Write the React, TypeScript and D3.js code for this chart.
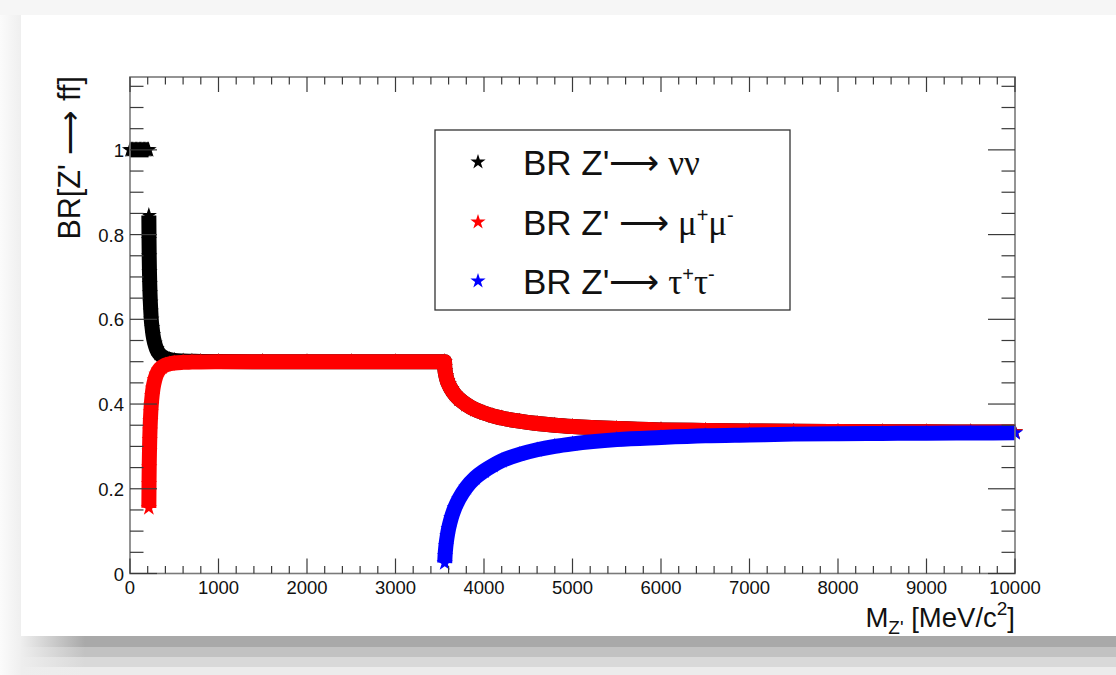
import React from 'react';
import * as d3 from 'd3';

const W = 1116;
const H = 675;

// Z' -> nu nu below the dimuon threshold (invisible channel only)
const NU_LOW_MASS = [0, 15, 30, 45, 60, 75, 90, 105, 120, 135, 150, 165, 180, 195, 210];
const NU_LOW_BR = [1, 1, 1, 1, 1, 1, 1, 1, 1, 1, 1, 1, 1, 1, 1];

// Z' -> nu nu above the dimuon threshold
const NU_MASS = [213, 215, 217, 220, 223, 226, 230, 235, 240, 250, 260, 280, 300, 330, 360, 400, 450, 500, 600, 700, 800, 1000, 1500, 2000, 2500, 3000, 3554,
  3556, 3560, 3570, 3585, 3600, 3630, 3670, 3720, 3800, 3900, 4000, 4100, 4200, 4400, 4600, 4800, 5000, 5500, 6000, 6500, 7000, 7500, 8000, 8500, 9000, 9500, 10000];
const NU_BR = [0.845, 0.788, 0.749, 0.712, 0.684, 0.662, 0.64, 0.619, 0.6, 0.58, 0.563, 0.543, 0.53, 0.519, 0.513, 0.508, 0.505, 0.503, 0.5015, 0.501, 0.5005, 0.5003, 0.5001, 0.5, 0.5, 0.5, 0.5,
  0.488, 0.479, 0.467, 0.455, 0.447, 0.435, 0.423, 0.412, 0.399, 0.387, 0.379, 0.372, 0.367, 0.3595, 0.354, 0.35, 0.347, 0.342, 0.339, 0.3376, 0.3364, 0.3356, 0.3351, 0.3347, 0.3344, 0.3342, 0.334];

// Z' -> mu+ mu-
const MU_MASS = [213, 215, 217, 220, 223, 226, 230, 235, 240, 250, 260, 280, 300, 330, 360, 400, 450, 500, 600, 700, 800, 1000, 1500, 2000, 2500, 3000, 3554,
  3556, 3560, 3570, 3585, 3600, 3630, 3670, 3720, 3800, 3900, 4000, 4100, 4200, 4400, 4600, 4800, 5000, 5500, 6000, 6500, 7000, 7500, 8000, 8500, 9000, 9500, 10000];
const MU_BR = [0.155, 0.212, 0.251, 0.288, 0.316, 0.338, 0.36, 0.381, 0.397, 0.42, 0.437, 0.457, 0.47, 0.481, 0.487, 0.492, 0.495, 0.497, 0.4985, 0.499, 0.4995, 0.4997, 0.4999, 0.5, 0.5, 0.5, 0.5,
  0.488, 0.479, 0.467, 0.455, 0.447, 0.435, 0.423, 0.412, 0.399, 0.387, 0.379, 0.372, 0.367, 0.3595, 0.354, 0.35, 0.347, 0.342, 0.339, 0.3376, 0.3364, 0.3356, 0.3351, 0.3347, 0.3344, 0.3342, 0.334];

// Z' -> tau+ tau-
const TAU_MASS = [3556, 3560, 3570, 3585, 3600, 3630, 3670, 3720, 3800, 3900, 4000, 4100, 4200, 4400, 4600, 4800, 5000, 5500, 6000, 6500, 7000, 7500, 8000, 8500, 9000, 9500, 10000];
const TAU_BR = [0.025, 0.042, 0.066, 0.089, 0.106, 0.131, 0.155, 0.177, 0.203, 0.226, 0.242, 0.255, 0.266, 0.281, 0.292, 0.3, 0.306, 0.316, 0.321, 0.325, 0.327, 0.329, 0.33, 0.3306, 0.3312, 0.3316, 0.332];

const X_MAJOR = [0, 1000, 2000, 3000, 4000, 5000, 6000, 7000, 8000, 9000, 10000];
const X_LABELS = ['0', '1000', '2000', '3000', '4000', '5000', '6000', '7000', '8000', '9000', '10000'];
const Y_MAJOR = [0, 0.2, 0.4, 0.6, 0.8, 1];
const Y_LABELS = ['0', '0.2', '0.4', '0.6', '0.8', '1'];

const SANS = 'Liberation Sans, Arial, Helvetica, sans-serif';
const SERIF = 'Liberation Serif, DejaVu Serif, Times New Roman, serif';
const ARROW_FONT = 'DejaVu Sans, sans-serif';

const BLACK = '#000000';
const RED = '#ff0000';
const BLUE = '#0000ff';

export default function App() {
  const frame = { left: 130, right: 1015, top: 77, bottom: 573.5 };
  const x = d3.scaleLinear().domain([0, 10000]).range([frame.left, frame.right]);
  const y = d3.scaleLinear().domain([0, 1.172]).range([frame.bottom, frame.top]);

  const xMinor = d3.range(0, 10001, 200).filter((v) => v % 1000 !== 0);
  const yMinor = d3.range(0, 1.17, 0.05).filter((v) => Math.abs(v / 0.2 - Math.round(v / 0.2)) > 1e-6);

  const series = [
    { mass: NU_LOW_MASS, br: NU_LOW_BR, color: BLACK },
    { mass: NU_MASS, br: NU_BR, color: BLACK },
    { mass: MU_MASS, br: MU_BR, color: RED },
    { mass: TAU_MASS, br: TAU_BR, color: BLUE },
  ];

  const line = d3
    .line<[number, number]>()
    .x((d) => x(d[0]))
    .y((d) => y(d[1]))
    .curve(d3.curveMonotoneX);

  const starPath = d3.symbol().type(d3.symbolStar).size(82)() as string;
  const legendStar = d3.symbol().type(d3.symbolStar).size(72)() as string;

  const bandWidth = 15;
  const tickColor = '#3a3a3a';
  const frameColor = '#7a7a7a';

  const shadowBands = [
    { y0: 636, y1: 647, c: '#a9a9a9' },
    { y0: 647, y1: 657, c: '#c2c2c2' },
    { y0: 657, y1: 667, c: '#d9d9d9' },
    { y0: 667, y1: 675, c: '#ececec' },
  ];

  const legendRows = [
    { color: BLACK, cy: 162 },
    { color: RED, cy: 222 },
    { color: BLUE, cy: 281 },
  ];

  return (
    <svg
      width={W}
      height={H}
      viewBox={`0 0 ${W} ${H}`}
      style={{ position: 'absolute', left: 0, top: 0, display: 'block' }}
    >
      <defs>
        {shadowBands.map((b, i) => (
          <linearGradient key={i} id={`sh${i}`} x1="21" x2="85" y1="0" y2="0" gradientUnits="userSpaceOnUse">
            <stop offset="0" stopColor="#eeeeee" />
            <stop offset="1" stopColor={b.c} />
          </linearGradient>
        ))}
        <linearGradient id="leftStrip" x1="0" x2="21" y1="0" y2="0" gradientUnits="userSpaceOnUse">
          <stop offset="0" stopColor="#fbfbfb" />
          <stop offset="1" stopColor="#efefef" />
        </linearGradient>
      </defs>

      {/* page background and card */}
      <rect x={0} y={0} width={W} height={H} fill="#f6f6f6" />
      <rect x={0} y={15} width={21} height={H - 15} fill="url(#leftStrip)" />
      <rect x={21} y={15} width={W - 21} height={621} fill="#ffffff" />
      {shadowBands.map((b, i) => (
        <rect key={i} x={21} y={b.y0} width={W - 21} height={b.y1 - b.y0} fill={`url(#sh${i})`} />
      ))}

      {/* tick labels (drawn beneath the markers) */}
      <g fontFamily={SANS} fontSize={18.5} fill="#111">
        {X_MAJOR.map((v, i) => (
          <text key={`xl${v}`} x={x(v)} y={594} textAnchor="middle">
            {X_LABELS[i]}
          </text>
        ))}
        {Y_MAJOR.map((v, i) => (
          <text key={`yl${v}`} x={124} y={y(v) + 7} textAnchor="end">
            {Y_LABELS[i]}
          </text>
        ))}
      </g>

      {/* data: thick marker bands with star markers */}
      {series.map((s, i) => {
        const pts: [number, number][] = s.mass.map((m, j) => [m, s.br[j]]);
        return (
          <g key={i}>
            <path
              d={line(pts) as string}
              fill="none"
              stroke={s.color}
              strokeWidth={bandWidth}
              strokeLinejoin="round"
            />
            {pts.map((p, j) => (
              <path key={j} d={starPath} transform={`translate(${x(p[0])},${y(p[1])})`} fill={s.color} />
            ))}
          </g>
        );
      })}

      {/* frame */}
      <rect
        x={frame.left}
        y={frame.top}
        width={frame.right - frame.left}
        height={frame.bottom - frame.top}
        fill="none"
        stroke={frameColor}
        strokeWidth={1.6}
      />

      {/* ticks on all four sides */}
      <g stroke={tickColor} strokeWidth={1.2}>
        {X_MAJOR.map((v) => (
          <g key={`xm${v}`}>
            <line x1={x(v)} x2={x(v)} y1={frame.bottom} y2={frame.bottom - 15} />
            <line x1={x(v)} x2={x(v)} y1={frame.top} y2={frame.top + 15} />
          </g>
        ))}
        {xMinor.map((v) => (
          <g key={`xn${v}`}>
            <line x1={x(v)} x2={x(v)} y1={frame.bottom} y2={frame.bottom - 7.5} />
            <line x1={x(v)} x2={x(v)} y1={frame.top} y2={frame.top + 7.5} />
          </g>
        ))}
        {Y_MAJOR.map((v) => (
          <g key={`ym${v}`}>
            <line x1={frame.left} x2={frame.left + 27} y1={y(v)} y2={y(v)} />
            <line x1={frame.right} x2={frame.right - 27} y1={y(v)} y2={y(v)} />
          </g>
        ))}
        {yMinor.map((v) => (
          <g key={`yn${v}`}>
            <line x1={frame.left} x2={frame.left + 13.5} y1={y(v)} y2={y(v)} />
            <line x1={frame.right} x2={frame.right - 13.5} y1={y(v)} y2={y(v)} />
          </g>
        ))}
      </g>

      {/* axis titles */}
      <text x={frame.right} y={627} textAnchor="end" fontFamily={SANS} fontSize={27.5} fill="#111">
        M
        <tspan fontSize={19} dy={7}>Z'</tspan>
        <tspan fontSize={27.5} dy={-7}> [MeV/c</tspan>
        <tspan fontSize={19} dy={-12}>2</tspan>
        <tspan fontSize={27.5} dy={12}>]</tspan>
      </text>
      <text
        transform={`translate(80,${frame.top - 1}) rotate(-90)`}
        textAnchor="end"
        fontFamily={SANS}
        fontSize={30.5}
        fill="#111"
      >
        BR[Z'
        <tspan fontFamily={ARROW_FONT} fontWeight={200}> ⟶ </tspan>
        ff]
      </text>

      {/* legend */}
      <rect x={435} y={130} width={355} height={180} fill="#ffffff" stroke="#333" strokeWidth={1.3} />
      {legendRows.map((r, i) => (
        <path key={i} d={legendStar} transform={`translate(478,${r.cy})`} fill={r.color} />
      ))}
      <g fontFamily={SANS} fontSize={35} fill="#111">
        <text x={523} y={175}>
          BR Z'<tspan fontFamily={ARROW_FONT} fontWeight={200}>⟶</tspan>
          <tspan fontFamily={SERIF}> νν</tspan>
        </text>
        <text x={523} y={235}>
          BR Z' <tspan fontFamily={ARROW_FONT} fontWeight={200}>⟶</tspan>
          <tspan fontFamily={SERIF}> μ</tspan>
          <tspan fontFamily={SANS} fontSize={20} dy={-13}>+</tspan>
          <tspan fontFamily={SERIF} dy={13}>μ</tspan>
          <tspan fontFamily={SANS} fontSize={20} dy={-13}>-</tspan>
        </text>
        <text x={523} y={294}>
          BR Z'<tspan fontFamily={ARROW_FONT} fontWeight={200}>⟶</tspan>
          <tspan fontFamily={SERIF}> τ</tspan>
          <tspan fontFamily={SANS} fontSize={20} dy={-13}>+</tspan>
          <tspan fontFamily={SERIF} dy={13}>τ</tspan>
          <tspan fontFamily={SANS} fontSize={20} dy={-13}>-</tspan>
        </text>
      </g>
    </svg>
  );
}
